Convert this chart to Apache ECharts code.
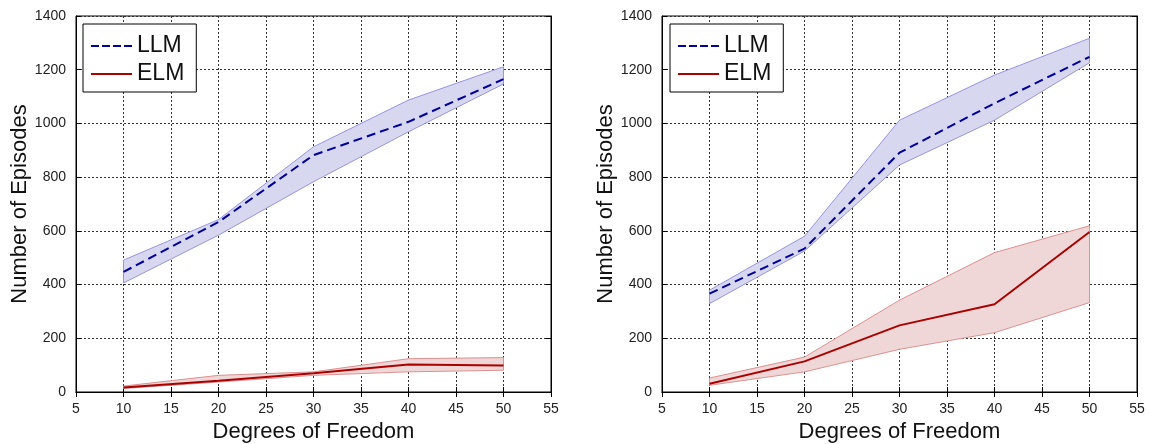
<!DOCTYPE html>
<html><head><meta charset="utf-8">
<script src="https://cdn.jsdelivr.net/npm/echarts@6/dist/echarts.min.js"></script>
<style>html,body{margin:0;padding:0;background:#fff}#c{width:1149px;height:444px}</style>
</head><body><div id="c"></div>
<script>
const dof = [10, 20, 30, 40, 50];
const xTicks = [5, 10, 15, 20, 25, 30, 35, 40, 45, 50, 55];
const yTicks = [0, 200, 400, 600, 800, 1000, 1200, 1400];

// Left panel
const leftLLM = [447, 633, 882, 1006, 1165];
const leftLLMUpper = [491, 642, 913, 1087, 1211];
const leftLLMLower = [406, 584, 783, 969, 1147];
const leftELM = [17, 42, 70, 102, 99];
const leftELMUpper = [22, 62, 75, 124, 128];
const leftELMLower = [13, 37, 62, 75, 81];

// Right panel
const rightLLM = [366, 534, 891, 1075, 1248];
const rightLLMUpper = [379, 580, 1012, 1180, 1317];
const rightLLMLower = [329, 525, 845, 1012, 1226];
const rightELM = [31, 114, 248, 327, 596];
const rightELMUpper = [52, 130, 342, 519, 619];
const rightELMLower = [25, 75, 159, 221, 333];

const FONT = 'Liberation Sans, Arial, sans-serif';
const blueLine = '#00009c', redLine = '#aa0000';
const blueFill = 'rgb(215,215,240)', redFill = 'rgb(240,215,215)';
const blueEdge = 'rgb(150,150,222)', redEdge = 'rgb(222,145,145)';

const grids = [
  {left: 76, top: 16, width: 475, height: 376, show: true, borderColor: '#000', borderWidth: 1, outerBoundsMode: 'none', containLabel: false},
  {left: 662, top: 16, width: 475, height: 376, show: true, borderColor: '#000', borderWidth: 1, outerBoundsMode: 'none', containLabel: false}
];

const xAxes = [], yAxes = [];
[0, 1].forEach(i => {
  xAxes.push({
    type: 'value', gridIndex: i, min: xTicks[0], max: xTicks[xTicks.length - 1], interval: 5,
    name: 'Degrees of Freedom', nameLocation: 'middle', nameGap: 28,
    nameTextStyle: {fontFamily: FONT, fontSize: 22, color: '#111'},
    axisLine: {lineStyle: {color: '#000'}},
    axisTick: {inside: true, length: 5, lineStyle: {color: '#000'}},
    axisLabel: {fontFamily: FONT, fontSize: 14, color: '#222', margin: 10},
    splitLine: {show: true, lineStyle: {type: [2, 2], color: '#333', width: 1}}
  });
  xAxes.push({
    type: 'value', gridIndex: i, position: 'top', min: xTicks[0], max: xTicks[xTicks.length - 1], interval: 5,
    axisLine: {lineStyle: {color: '#000'}},
    axisTick: {inside: true, length: 5, lineStyle: {color: '#000'}},
    axisLabel: {show: false}, splitLine: {show: false}
  });
  yAxes.push({
    type: 'value', gridIndex: i, min: yTicks[0], max: yTicks[yTicks.length - 1], interval: 200,
    name: 'Number of Episodes', nameLocation: 'middle', nameGap: 45,
    nameTextStyle: {fontFamily: FONT, fontSize: 22, color: '#111'},
    axisLine: {show: true, lineStyle: {color: '#000'}},
    axisTick: {show: true, inside: true, length: 5, lineStyle: {color: '#000'}},
    axisLabel: {fontFamily: FONT, fontSize: 14, color: '#222', margin: 10, formatter: v => String(v)},
    splitLine: {show: true, lineStyle: {type: [2, 2], color: '#333', width: 1}}
  });
  yAxes.push({
    type: 'value', gridIndex: i, position: 'right', min: yTicks[0], max: yTicks[yTicks.length - 1], interval: 200,
    axisLine: {show: true, lineStyle: {color: '#000'}},
    axisTick: {show: true, inside: true, length: 5, lineStyle: {color: '#000'}},
    axisLabel: {show: false}, splitLine: {show: false}
  });
});

const series = [];
function band(panel, key, up, lo, fill, edge) {
  series.push({
    name: key + '_band' + panel, type: 'custom', xAxisIndex: panel * 2, yAxisIndex: panel * 2,
    data: dof.map((x, k) => [x, lo[k], up[k]]),
    encode: {x: 0, y: [1, 2]}, silent: true, z: 1,
    renderItem: function (params, api) {
      if (params.dataIndex !== 0) return null;
      const pts = [];
      for (let k = 0; k < dof.length; k++) pts.push(api.coord([dof[k], up[k]]));
      for (let k = dof.length - 1; k >= 0; k--) pts.push(api.coord([dof[k], lo[k]]));
      return {type: 'polygon', shape: {points: pts}, style: {fill: fill, stroke: edge, lineWidth: 1}};
    }
  });
}
function mean(panel, name, vals, color, dashed) {
  series.push({
    name: name, type: 'line', xAxisIndex: panel * 2, yAxisIndex: panel * 2,
    data: dof.map((x, k) => [x, vals[k]]), showSymbol: false, symbol: 'none',
    itemStyle: {color: color},
    lineStyle: {color: color, width: 2, type: dashed ? [9, 5] : 'solid'}, z: 3
  });
}
band(0, 'llm', leftLLMUpper, leftLLMLower, blueFill, blueEdge);
band(0, 'elm', leftELMUpper, leftELMLower, redFill, redEdge);
mean(0, 'LLM', leftLLM, blueLine, true);
mean(0, 'ELM', leftELM, redLine, false);
band(1, 'llm', rightLLMUpper, rightLLMLower, blueFill, blueEdge);
band(1, 'elm', rightELMUpper, rightELMLower, redFill, redEdge);
mean(1, 'LLM', rightLLM, blueLine, true);
mean(1, 'ELM', rightELM, redLine, false);

const dashIcon = 'path://M0,0h8v2h-8z M11,0h8v2h-8z M22,0h8v2h-8z M33,0h8v2h-8z';
const solidIcon = 'path://M0,0h41v2h-41z';
function legend(left) {
  return {
    data: [{name: 'LLM', icon: dashIcon, itemStyle: {color: blueLine}},
           {name: 'ELM', icon: solidIcon, itemStyle: {color: redLine}}],
    orient: 'vertical', left: left, top: 24,
    backgroundColor: '#fff', borderColor: '#000', borderWidth: 1, borderRadius: 0,
    padding: [9, 12, 5, 8], itemGap: 2, itemWidth: 41, itemHeight: 2,
    textStyle: {fontFamily: FONT, fontSize: 23, color: '#111', padding: [0, 0, 0, 0], lineHeight: 26},
    selectedMode: false
  };
}

const chart = echarts.init(document.getElementById('c'), null, {renderer: 'canvas'});
chart.setOption({
  animation: false,
  backgroundColor: '#fff',
  grid: grids, xAxis: xAxes, yAxis: yAxes, series: series,
  legend: [legend(83), legend(670)]
});
</script></body></html>
